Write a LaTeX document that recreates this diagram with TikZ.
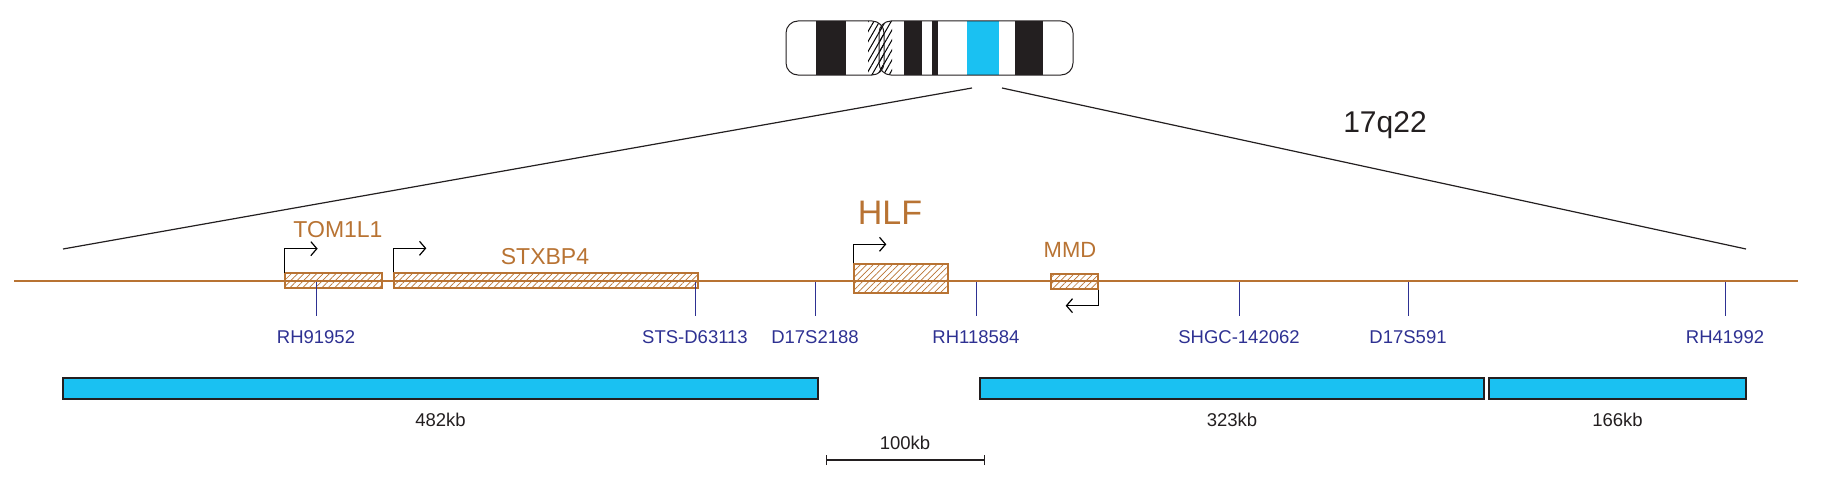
\documentclass[tikz,border=0pt]{standalone}
\usepackage{fontspec}
\setmainfont{Liberation Sans}
\usetikzlibrary{positioning,patterns.meta,arrows.meta}
\definecolor{gene}{RGB}{184,115,51}
\definecolor{mark}{RGB}{46,49,146}
\definecolor{band}{RGB}{26,193,242}
\definecolor{dark}{RGB}{35,31,32}
\tikzset{
  genebox/.style={draw=gene, line width=1.4pt, inner sep=0pt,
    pattern={Lines[angle=45,distance=4.5pt,line width=0.7pt]}, pattern color=gene},
  genelabel/.style={text=gene, inner sep=0pt},
  marker/.style={draw=mark, line width=1pt},
  marklabel/.style={text=mark, font=\fontsize{18.5}{21}\selectfont, inner sep=0pt},
  tss/.style={draw=black, line width=1.2pt, -{Straight Barb[length=6pt,width=14pt]}},
  kbbar/.style={draw=dark, line width=1.8pt, fill=band, inner sep=0pt},
  kblabel/.style={text=dark, font=\fontsize{18.5}{21}\selectfont, inner sep=0pt},
}
\begin{document}
\begin{tikzpicture}[x=1pt,y=-1pt]
\useasboundingbox (0,0) rectangle (1825,495);
% chromosome
\begin{scope}
  \clip[rounded corners=12pt] (786,21) rectangle (884,75);
  \fill[dark] (816,21) rectangle (846,75);
  \fill[pattern={Lines[angle=60,distance=5pt,line width=1pt]}] (868,21) rectangle (884,75);
\end{scope}
\begin{scope}
  \clip[rounded corners=12pt] (879,21) rectangle (1073,75);
  \fill[pattern={Lines[angle=60,distance=5pt,line width=1pt]}] (879,21) rectangle (892,75);
  \fill[dark] (904,21) rectangle (922,75);
  \fill[dark] (932,21) rectangle (938,75);
  \fill[band] (967,21) rectangle (999,75);
  \fill[dark] (1015,21) rectangle (1043,75);
\end{scope}
\draw[dark, line width=1pt, rounded corners=12pt] (786,21) rectangle (884,75);
\draw[dark, line width=1pt, rounded corners=12pt] (879,21) rectangle (1073,75);
% zoom lines
\coordinate (zl) at (972,88);
\coordinate (zr) at (1002,88);
\coordinate (zlend) at (63,249);
\coordinate (zrend) at (1746,249);
\draw[dark, line width=1.2pt] (zl) -- (zlend);
\draw[dark, line width=1.2pt] (zr) -- (zrend);
\node[text=dark, font=\fontsize{30}{34}\selectfont, inner sep=0pt] (band) at (1385,125) {17q22};
% main line
\coordinate (start) at (14,281);
\coordinate (stop) at (1798,281);
\draw[gene, line width=1.6pt] (start) -- (stop);
% genes
\node[genebox, minimum width=97pt, minimum height=15pt] (tom) at (333.5,280.5) {};
\node[genebox, minimum width=304pt, minimum height=15pt] (stx) at (546,280.5) {};
\node[genebox, minimum width=94pt, minimum height=29pt] (hlf) at (901,278.5) {};
\node[genebox, minimum width=47pt, minimum height=15pt] (mmd) at (1074.5,281.5) {};
\node[genelabel, font=\fontsize{23}{26}\selectfont] (tomlab) at (338,230) {TOM1L1};
\node[genelabel, font=\fontsize{23}{26}\selectfont] (stxlab) at (545,257) {STXBP4};
\node[genelabel, font=\fontsize{34}{38}\selectfont] (hlflab) at (890,213) {HLF};
\node[genelabel, font=\fontsize{22}{25}\selectfont] (mmdlab) at (1070,250) {MMD};
% transcription starts
\draw[tss] (tom.north west) -- ++(0,-24) -- ++(33,0);
\draw[tss] (stx.north west) -- ++(0,-24) -- ++(33,0);
\draw[tss] (hlf.north west) -- ++(0,-19) -- ++(33,0);
\draw[tss] (mmd.south east) -- ++(0,16) -- ++(-33,0);
% markers
\foreach \x/\name/\txt in {316/ma/RH91952, 695/mb/STS-D63113, 815/mc/D17S2188,
    976/md/RH118584, 1239/me/SHGC-142062, 1408/mf/D17S591, 1725/mg/RH41992}{
  \coordinate (\name) at (\x,282);
  \node[marklabel] (\name lab) at (\x,337) {\txt};
  \draw[marker] (\name) -- ++(0,34);
}
% kb bars
\node[kbbar, minimum width=755pt, minimum height=21pt] (kba) at (440.5,388.5) {};
\node[kbbar, minimum width=504pt, minimum height=21pt] (kbb) at (1232,388.5) {};
\node[kbbar, minimum width=257pt, minimum height=21pt] (kbc) at (1617.5,388.5) {};
\node[kblabel, below=13pt of kba] {482kb};
\node[kblabel, below=13pt of kbb] {323kb};
\node[kblabel, below=13pt of kbc] {166kb};
% scale
\coordinate (sa) at (826,460);
\coordinate (sb) at (984,460);
\draw[dark, line width=1.6pt] (sa) -- (sb);
\draw[dark, line width=0.6pt] ([yshift=-5pt]sa) -- ([yshift=5pt]sa);
\draw[dark, line width=0.6pt] ([yshift=-5pt]sb) -- ([yshift=5pt]sb);
\node[kblabel] (scalelab) at (905,443) {100kb};
\end{tikzpicture}
\end{document}
